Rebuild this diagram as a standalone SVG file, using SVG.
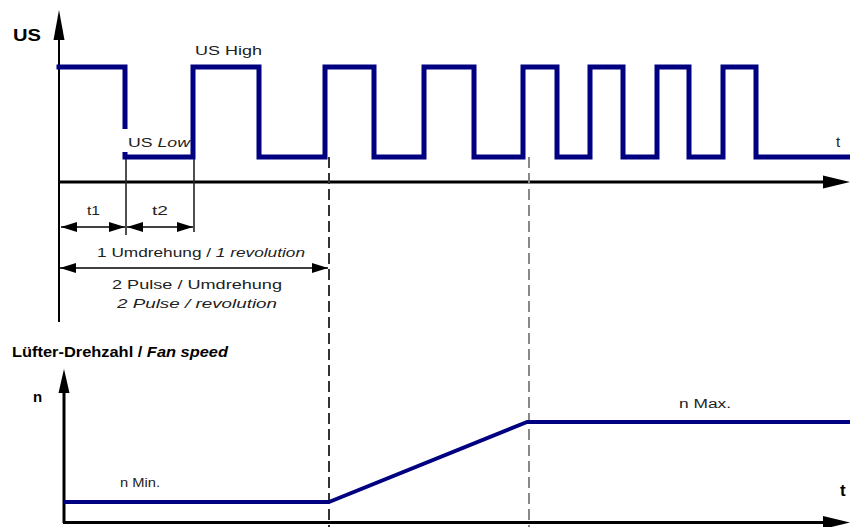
<svg xmlns="http://www.w3.org/2000/svg" width="850" height="527" viewBox="0 0 850 527">
<style>
.wave{fill:none;stroke:#000080;stroke-width:5;stroke-linejoin:miter;stroke-linecap:square}
.speed{fill:none;stroke:#000080;stroke-width:4;stroke-linejoin:round}
.axis{stroke:#000;stroke-width:3;fill:none}
.vaxis{stroke:#000;stroke-width:2;fill:none}
.ext{stroke:#222;stroke-width:1.6;fill:none}
.dim{stroke:#000;stroke-width:1.6;fill:none;marker-start:url(#ah);marker-end:url(#ah)}
.dash1{stroke:#333;stroke-width:2;stroke-dasharray:11 5;fill:none}
.dash2{stroke:#888;stroke-width:2;stroke-dasharray:11 5;fill:none}
.head{fill:#000}
text{font-family:"Liberation Sans",Arial,sans-serif;fill:#222;font-size:13px}
.b{font-weight:bold;fill:#000}
.i{font-style:italic}
</style>
<defs>
<marker id="ah" markerUnits="userSpaceOnUse" markerWidth="16" markerHeight="10" refX="16" refY="5" orient="auto-start-reverse">
<path d="M0,0 L16,5 L0,10 Z" fill="#000"/>
</marker>
</defs>

<g id="connectors">
<line class="vaxis" x1="59" y1="30" x2="59" y2="322"/>
<polygon class="head" points="59,10 53.5,40 64.5,40"/>
<line class="axis" x1="59" y1="182" x2="825" y2="182"/>
<polygon class="head" points="850,182 823,175.5 823,188.5"/>
<line class="ext" x1="126" y1="157" x2="126" y2="235"/>
<line class="ext" x1="194" y1="157" x2="194" y2="232"/>
<line class="dim" x1="61" y1="227" x2="125" y2="227"/>
<line class="dim" x1="127" y1="227" x2="193" y2="227"/>
<line class="dim" x1="60" y1="268" x2="328" y2="268"/>
<line class="dash1" x1="329" y1="157" x2="329" y2="527"/>
<line class="dash2" x1="529" y1="157" x2="529" y2="527"/>
<line class="axis" x1="64" y1="390" x2="64" y2="523"/>
<polygon class="head" points="64,369 58.5,393 69.5,393"/>
<line class="axis" x1="63" y1="522.5" x2="825" y2="522.5"/>
<polygon class="head" points="850,522.5 823,516 823,529"/>
</g>

<g id="us-signal">
<path class="wave" d="M59,67 H125 V157 H193 V67 H259 V157 H325 V67 H374 V157 H424 V67 H474 V157 H523 V67 H557 V157 H590 V67 H623 V157 H657 V67 H689 V157 H723 V67 H756 V157 H850"/>
<rect x="120" y="129" width="70" height="23" fill="#fff"/>
</g>

<g id="fan-speed">
<path class="speed" d="M64,502 H329 L527,422 H850"/>
</g>

<g id="labels">
<text id="us-label" class="b" x="13" y="41" textLength="28" lengthAdjust="spacingAndGlyphs" style="font-size:17px">US</text>
<text id="us-high" x="195" y="55" textLength="67" lengthAdjust="spacingAndGlyphs">US High</text>
<text id="us-low" x="128" y="147" textLength="62" lengthAdjust="spacingAndGlyphs">US <tspan class="i">Low</tspan></text>
<text id="t-top" x="836" y="147" style="font-size:15px">t</text>
<text id="t1" x="87" y="215" style="font-size:12px" textLength="13" lengthAdjust="spacingAndGlyphs">t1</text>
<text id="t2" x="152" y="215" style="font-size:12px" textLength="16" lengthAdjust="spacingAndGlyphs">t2</text>
<text id="rev" x="97" y="257" textLength="208" lengthAdjust="spacingAndGlyphs">1 Umdrehung / <tspan class="i">1 revolution</tspan></text>
<text id="pulse-de" x="112" y="289" textLength="170" lengthAdjust="spacingAndGlyphs">2 Pulse / Umdrehung</text>
<text id="pulse-en" class="i" x="117" y="308" textLength="160" lengthAdjust="spacingAndGlyphs">2 Pulse / revolution</text>
<text id="fan-title" class="b" x="12" y="357" style="font-size:15px" textLength="216" lengthAdjust="spacingAndGlyphs">Lüfter-Drehzahl /  <tspan class="i">Fan speed</tspan></text>
<text id="n-label" class="b" x="33" y="402" style="font-size:15px">n</text>
<text id="n-min" x="120" y="487" style="font-size:12px" textLength="40" lengthAdjust="spacingAndGlyphs">n Min.</text>
<text id="n-max" x="679" y="408" style="font-size:12px" textLength="52" lengthAdjust="spacingAndGlyphs">n Max.</text>
<text id="t-bottom" class="b" x="840" y="496" style="font-size:17px">t</text>
</g>
</svg>
